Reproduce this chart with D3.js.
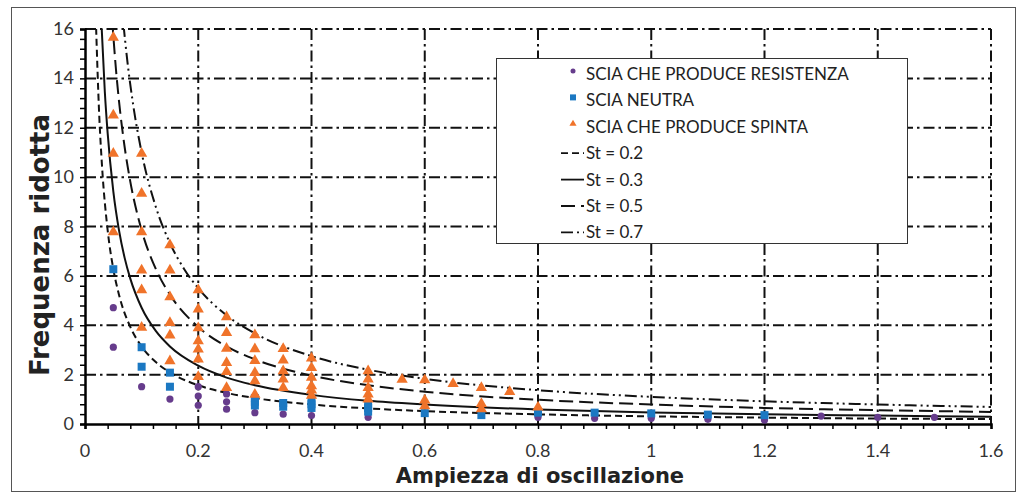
<!DOCTYPE html>
<html>
<head>
<meta charset="utf-8">
<script src="https://cdn.jsdelivr.net/npm/d3@7"></script>
<style>
  body { margin: 0; background: #fff; }
  text { font-family: Lato, "Noto Sans", sans-serif; }
  .title { font-family: "DejaVu Sans", sans-serif; font-weight: bold; }
</style>
</head>
<body>
<svg id="chart" width="1024" height="498"></svg>
<script>
// scatter data: [amplitude, reduced frequency]
const dragPoints = [
  [0.05, 4.71], [0.05, 3.11], [0.1, 1.51], [0.15, 1.01],
  [0.2, 1.51], [0.2, 1.13], [0.2, 0.76], [0.25, 1.22], [0.25, 0.9], [0.25, 0.6],
  [0.3, 0.46], [0.35, 0.4], [0.4, 0.34], [0.5, 0.27], [0.8, 0.27], [0.9, 0.23],
  [1.0, 0.23], [1.1, 0.19], [1.2, 0.16], [1.3, 0.32], [1.4, 0.27], [1.5, 0.27]
];
const neutralPoints = [
  [0.05, 6.27], [0.1, 3.11], [0.1, 2.32], [0.15, 2.08], [0.15, 1.51],
  [0.3, 1.05], [0.3, 0.9], [0.3, 0.75], [0.35, 0.85], [0.35, 0.7],
  [0.4, 0.95], [0.4, 0.8], [0.4, 0.65], [0.5, 0.8], [0.5, 0.65], [0.5, 0.5],
  [0.6, 0.44], [0.7, 0.36], [0.8, 0.46], [0.9, 0.46], [1.0, 0.43], [1.1, 0.38], [1.2, 0.36]
];
const thrustPoints = [
  [0.05, 15.7], [0.05, 12.55], [0.05, 11.0], [0.05, 7.82],
  [0.1, 11.0], [0.1, 9.38], [0.1, 7.82], [0.1, 6.27], [0.1, 5.47], [0.1, 3.95],
  [0.15, 7.29], [0.15, 6.27], [0.15, 5.18], [0.15, 4.14], [0.15, 3.64], [0.15, 2.59],
  [0.2, 5.47], [0.2, 4.69], [0.2, 3.93], [0.2, 3.4], [0.2, 3.07], [0.2, 2.66], [0.2, 1.95],
  [0.25, 4.37], [0.25, 3.74], [0.25, 3.1], [0.25, 2.52], [0.25, 2.16], [0.25, 1.51],
  [0.3, 3.65], [0.3, 3.08], [0.3, 2.6], [0.3, 2.12], [0.3, 1.78], [0.3, 1.24],
  [0.35, 3.09], [0.35, 2.62], [0.35, 2.19], [0.35, 1.85], [0.35, 1.51],
  [0.4, 2.7], [0.4, 2.32], [0.4, 1.92], [0.4, 1.58], [0.4, 1.41], [0.4, 1.2],
  [0.5, 2.19], [0.5, 1.85], [0.5, 1.51], [0.5, 1.25], [0.5, 1.04],
  [0.56, 1.84], [0.6, 1.82], [0.6, 1.0], [0.6, 0.77], [0.65, 1.67],
  [0.7, 1.51], [0.7, 0.86], [0.7, 0.65], [0.75, 1.35], [0.8, 0.72]
];

// Strouhal curves, points
const st02 = [[0.019, 16.5], [0.025, 12.57], [0.03, 10.47], [0.04, 7.85], [0.05, 6.28], [0.06, 5.24],
  [0.08, 3.93], [0.1, 3.14], [0.125, 2.51], [0.15, 2.09], [0.2, 1.57], [0.25, 1.26], [0.3, 1.05],
  [0.4, 0.79], [0.5, 0.63], [0.6, 0.52], [0.8, 0.39], [1.0, 0.31], [1.2, 0.26], [1.4, 0.22], [1.6, 0.2]];
const st03 = [[0.029, 16.25], [0.035, 13.46], [0.04, 11.78], [0.05, 9.42], [0.06, 7.85], [0.07, 6.73],
  [0.08, 5.89], [0.1, 4.71], [0.125, 3.77], [0.15, 3.14], [0.2, 2.36], [0.25, 1.88], [0.3, 1.57],
  [0.4, 1.18], [0.5, 0.94], [0.6, 0.79], [0.8, 0.59], [1.0, 0.47], [1.2, 0.39], [1.4, 0.34], [1.6, 0.29]];
const st05 = [[0.048, 16.36], [0.055, 14.28], [0.06, 13.09], [0.07, 11.22], [0.08, 9.82], [0.1, 7.85],
  [0.125, 6.28], [0.15, 5.24], [0.2, 3.93], [0.25, 3.14], [0.3, 2.62], [0.4, 1.96], [0.5, 1.57],
  [0.6, 1.31], [0.8, 0.98], [1.0, 0.79], [1.2, 0.65], [1.4, 0.56], [1.6, 0.49]];
const st07 = [[0.068, 16.17], [0.075, 14.66], [0.085, 12.94], [0.1, 11.0], [0.125, 8.8], [0.15, 7.33],
  [0.175, 6.28], [0.2, 5.5], [0.25, 4.4], [0.3, 3.67], [0.4, 2.75], [0.5, 2.2], [0.6, 1.83],
  [0.8, 1.37], [1.0, 1.1], [1.2, 0.92], [1.4, 0.79], [1.6, 0.69]];

const xTicks = [0, 0.2, 0.4, 0.6, 0.8, 1, 1.2, 1.4, 1.6];
const yTicks = [0, 2, 4, 6, 8, 10, 12, 14, 16];
const scatterNames = ["SCIA CHE PRODUCE RESISTENZA", "SCIA NEUTRA", "SCIA CHE PRODUCE SPINTA"];
const curveNames = ["St = 0.2", "St = 0.3", "St = 0.5", "St = 0.7"];

const purple = "#663c8c", blue = "#1b78c2", orange = "#f0732a";
const dashes = ["7,4", null, "14,6", "12,4,2,4,2,4"];

let svg = d3.select("#chart");

// outer frame
svg.append("rect")
  .attr("x", 11.5).attr("y", 7.5)
  .attr("width", 1004).attr("height", 484)
  .attr("fill", "#fff").attr("stroke", "#555").attr("stroke-width", 1);

let xScale = d3.scaleLinear().domain([0, 1.6]).range([85, 991]);
let yScale = d3.scaleLinear().domain([0, 16]).range([424, 29]);

// dash-dot grid
let grid = svg.append("g")
  .attr("stroke", "#111")
  .attr("stroke-width", 2)
  .attr("stroke-dasharray", "11,4,2.5,4");

grid.selectAll("line.v").data(xTicks.slice(1)).join("line")
  .attr("class", "v")
  .attr("x1", d => xScale(d)).attr("x2", d => xScale(d))
  .attr("y1", yScale(16)).attr("y2", yScale(0));

grid.selectAll("line.h").data(yTicks.slice(1)).join("line")
  .attr("class", "h")
  .attr("x1", xScale(0)).attr("x2", xScale(1.6))
  .attr("y1", d => yScale(d)).attr("y2", d => yScale(d));

// axes
let xAxis = d3.axisBottom(xScale)
  .tickValues(d3.range(0, 41).map(i => i * 0.04))
  .tickSize(5)
  .tickFormat("");
svg.append("g").attr("transform", `translate(0,${yScale(0)})`).call(xAxis)
  .call(g => g.select(".domain").attr("stroke-width", 2.5))
  .call(g => g.selectAll(".tick line").attr("stroke-width", 1.5));

svg.append("g").selectAll("text").data(xTicks).join("text")
  .attr("x", d => xScale(d))
  .attr("y", 457)
  .attr("text-anchor", "middle")
  .attr("font-size", 18)
  .attr("fill", "#333")
  .text(d => d3.format("~g")(d));

let yAxis = d3.axisLeft(yScale)
  .tickValues(d3.range(0, 41).map(i => i * 0.4))
  .tickSize(5)
  .tickFormat("");
svg.append("g").attr("transform", `translate(${xScale(0)},0)`).call(yAxis)
  .call(g => g.select(".domain").attr("stroke-width", 2.5))
  .call(g => g.selectAll(".tick line").attr("stroke-width", 1.5));

svg.append("g").selectAll("text").data(yTicks).join("text")
  .attr("x", 74)
  .attr("y", d => yScale(d) + 6)
  .attr("text-anchor", "end")
  .attr("font-size", 18)
  .attr("fill", "#333")
  .text(d => d);

svg.append("text")
  .attr("class", "title")
  .attr("x", 540).attr("y", 483)
  .attr("text-anchor", "middle")
  .attr("font-size", 21)
  .attr("fill", "#222")
  .text("Ampiezza di oscillazione");

svg.append("text")
  .attr("class", "title")
  .attr("transform", "translate(49,245) rotate(-90)")
  .attr("text-anchor", "middle")
  .attr("font-size", 26)
  .attr("fill", "#222")
  .text("Frequenza ridotta");

// curves, clipped to the plot area
svg.append("clipPath").attr("id", "plotClip")
  .append("rect")
  .attr("x", xScale(0)).attr("y", yScale(16))
  .attr("width", xScale(1.6) - xScale(0)).attr("height", yScale(0) - yScale(16));

let line = d3.line()
  .x(d => xScale(d[0]))
  .y(d => yScale(d[1]))
  .curve(d3.curveMonotoneX);

let curves = [st02, st03, st05, st07];

svg.append("g").attr("clip-path", "url(#plotClip)")
  .selectAll("path").data(curves).join("path")
  .attr("d", d => line(d))
  .attr("fill", "none")
  .attr("stroke", "#111")
  .attr("stroke-width", 2)
  .attr("stroke-dasharray", (d, i) => dashes[i]);

// scatter markers
let triangle = d3.symbol().type(d3.symbolTriangle).size(55);

svg.append("g").selectAll("circle").data(dragPoints).join("circle")
  .attr("cx", d => xScale(d[0]))
  .attr("cy", d => yScale(d[1]))
  .attr("r", 3.6)
  .attr("fill", purple);

svg.append("g").selectAll("rect").data(neutralPoints).join("rect")
  .attr("x", d => xScale(d[0]) - 4)
  .attr("y", d => yScale(d[1]) - 4)
  .attr("width", 8).attr("height", 8)
  .attr("fill", blue);

svg.append("g").selectAll("path").data(thrustPoints).join("path")
  .attr("transform", d => `translate(${xScale(d[0])},${yScale(d[1]) + 1})`)
  .attr("d", triangle)
  .attr("fill", orange);

// legend
let legend = svg.append("g");
legend.append("rect")
  .attr("x", 496.5).attr("y", 58.5)
  .attr("width", 411).attr("height", 185)
  .attr("fill", "#fff").attr("stroke", "#333").attr("stroke-width", 1);

let rowY = i => 74 + i * 26.4;

legend.append("circle").attr("cx", 573).attr("cy", rowY(0) - 3).attr("r", 2.5).attr("fill", purple);
legend.append("rect").attr("x", 570).attr("y", rowY(1) - 6).attr("width", 6).attr("height", 6).attr("fill", blue);
legend.append("path")
  .attr("transform", `translate(573,${rowY(2) - 3})`)
  .attr("d", d3.symbol().type(d3.symbolTriangle).size(22))
  .attr("fill", orange);

legend.selectAll("line").data(curveNames).join("line")
  .attr("x1", 561).attr("x2", 584)
  .attr("y1", (d, i) => rowY(i + 3)).attr("y2", (d, i) => rowY(i + 3))
  .attr("stroke", "#111").attr("stroke-width", 1.8)
  .attr("stroke-dasharray", (d, i) => dashes[i]);

legend.selectAll("text").data(scatterNames.concat(curveNames)).join("text")
  .attr("x", 586)
  .attr("y", (d, i) => rowY(i) + 6)
  .attr("font-size", 17)
  .attr("fill", "#222")
  .text(d => d);
</script>
</body>
</html>
